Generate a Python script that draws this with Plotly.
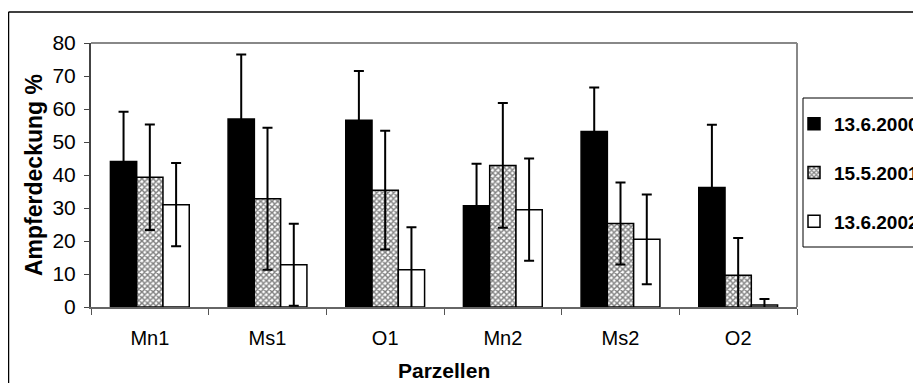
import plotly.graph_objects as go

categories = ["Mn1", "Ms1", "O1", "Mn2", "Ms2", "O2"]
series_names = ["13.6.2000", "15.5.2001", "13.6.2002"]
v2000 = [44.1, 57.0, 56.6, 30.7, 53.2, 36.2]
e2000 = [15.1, 19.5, 14.9, 12.7, 13.3, 19.0]
v2001 = [39.3, 32.8, 35.4, 42.9, 25.3, 9.6]
e2001 = [16.0, 21.5, 18.0, 18.9, 12.4, 11.3]
v2002 = [31.0, 12.8, 11.3, 29.5, 20.5, 0.6]
e2002 = [12.6, 12.4, 12.9, 15.5, 13.6, 1.8]
y_ticks = [0, 10, 20, 30, 40, 50, 60, 70, 80]

# page has an 8px body margin; figure sized to fit the 921x383 window
OFF = 8
W, H = 921 - OFF, 383 - OFF
# plot area in page pixels: x 91..797, y 43..307
PL, PR, PT, PB = 91, 797, 43, 307
L, T = PL - OFF, PT - OFF
R, B = W - (PR - OFF), H - (PB - OFF)
pw, ph = W - L - R, H - T - B

def px_x(x):
    """page pixel x -> paper coordinate"""
    return (x - OFF - L) / pw

def px_y(y):
    """page pixel y -> paper coordinate"""
    return (H - B - (y - OFF)) / ph

FONT = "Liberation Sans, Arial, sans-serif"
err_style = dict(type="data", color="black", thickness=2, width=5, visible=True)

fig = go.Figure()
fig.add_trace(go.Bar(
    x=categories, y=v2000, name=series_names[0], legendgroup="a",
    marker=dict(color="black", line=dict(color="black", width=1.5)),
    error_y=dict(array=e2000, **err_style),
))
fig.add_trace(go.Bar(
    x=categories, y=v2001, name=series_names[1], legendgroup="b",
    marker=dict(color="white", line=dict(color="black", width=1.5),
                pattern=dict(shape="x", fgcolor="black", bgcolor="white",
                             size=4, solidity=0.6)),
    error_y=dict(array=e2001, **err_style),
))
fig.add_trace(go.Bar(
    x=categories, y=v2002, name=series_names[2], legendgroup="c",
    marker=dict(color="white", line=dict(color="black", width=1.5)),
    error_y=dict(array=e2002, **err_style),
))

fig.update_layout(
    width=W, height=H,
    margin=dict(l=L, r=R, t=T, b=B, autoexpand=False),
    paper_bgcolor="white", plot_bgcolor="white",
    font=dict(family=FONT, size=20, color="black"),
    barmode="group", bargap=0.33, bargroupgap=0,
    showlegend=True,
    legend=dict(
        x=px_x(794), y=px_y(105), xanchor="left", yanchor="top",
        font=dict(family=FONT, size=19, color="black", weight="bold"),
        bgcolor="rgba(0,0,0,0)", borderwidth=0,
        traceorder="grouped", tracegroupgap=21,
    ),
    xaxis=dict(
        type="category", tickson="boundaries", ticks="outside", ticklen=6,
        tickcolor="#555", linecolor="#666", linewidth=2, showline=True,
        showgrid=False, tickfont=dict(size=20), ticklabelstandoff=12,
    ),
    yaxis=dict(
        range=[0, 80], tickvals=y_ticks, ticks="outside", ticklen=5,
        tickcolor="#444", linecolor="#444", linewidth=2, showline=True,
        showgrid=False, zeroline=False, tickfont=dict(size=21),
        ticklabelstandoff=4,
    ),
    annotations=[
        dict(text="<b>Ampferdeckung %</b>", x=px_x(34), y=px_y(175), xref="paper", yref="paper",
             textangle=-90, showarrow=False, xanchor="center", yanchor="middle",
             font=dict(size=23)),
        dict(text="<b>Parzellen</b>", x=0.5, y=px_y(370), xref="paper", yref="paper",
             showarrow=False, xanchor="center", yanchor="middle", font=dict(size=21)),
    ],
    shapes=[
        # plot frame top and right (gray)
        dict(type="line", xref="paper", yref="paper", x0=0, x1=1, y0=1, y1=1,
             line=dict(color="#888", width=2)),
        dict(type="line", xref="paper", yref="paper", x0=1, x1=1, y0=0, y1=1,
             line=dict(color="#888", width=2)),
        # legend box
        dict(type="rect", xref="paper", yref="paper", x0=px_x(803), x1=px_x(940),
             y0=px_y(247), y1=px_y(98), line=dict(color="black", width=1)),
        # outer chart frame
        dict(type="line", xref="paper", yref="paper", x0=px_x(8.5), x1=px_x(940),
             y0=px_y(12), y1=px_y(12), line=dict(color="black", width=1.5)),
        dict(type="line", xref="paper", yref="paper", x0=px_x(8.5), x1=px_x(8.5),
             y0=px_y(12), y1=px_y(400), line=dict(color="black", width=1.5)),
    ],
)

fig.write_html("out.html")
